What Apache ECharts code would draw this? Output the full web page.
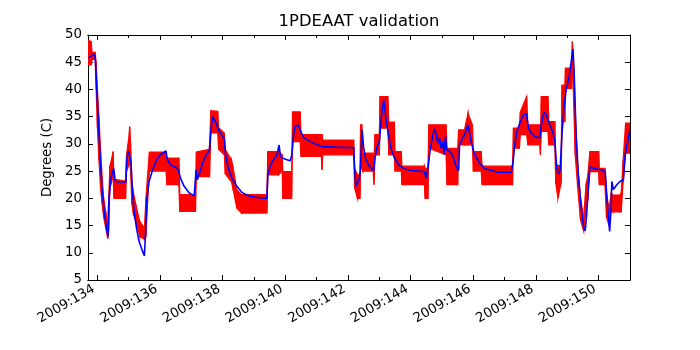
<!DOCTYPE html>
<html><head><meta charset="utf-8">
<script src="https://cdn.jsdelivr.net/npm/echarts@6/dist/echarts.min.js"></script>
<style>html,body{margin:0;padding:0;background:#fff}#c{width:700px;height:350px}</style>
</head><body><div id="c"></div>
<script>
// ---- data ----
const titleText = '1PDEAAT validation';
const yName = 'Degrees (C)';
const labelDays = [134,136,138,140,142,144,146,148,150];
const minorDays = [135,137,139,141,143,145,147,149,151];

// measured temperature (red): [day, low, high] envelope of the oscillating telemetry
const measured = [
[133.70,44.5,49.0],[133.80,44.5,48.8],[133.83,45.5,46.8],[133.93,45.5,46.8],[133.96,40,45],
[134.00,33,40],[134.05,27,35],[134.10,22,29],[134.15,19,24],[134.20,16.5,20],[134.27,14.5,17.5],
[134.33,12.6,15],[134.36,14,20],[134.40,22,26],[134.45,23,27],[134.50,24,28.6],[134.53,20,23.5],
[134.90,20,23.2],[134.93,25,28],[135.00,26,31],[135.03,27,33.2],[135.06,25,30],[135.10,19,23],
[135.15,17,21],[135.25,15.5,18.2],[135.35,13,15.8],[135.50,12.5,14.5],[135.55,13,20],[135.60,19,24],
[135.66,25,28.5],[136.19,25,28.5],[136.22,22.5,27.4],[136.60,22.5,27.4],[136.63,17.6,20.7],
[137.13,17.6,20.7],[137.16,24,28.5],[137.58,24,29],[137.62,32,36.1],[137.84,32,36],[137.87,29,33],
[138.05,28,32],[138.08,24.5,29],[138.28,23,27],[138.32,22,26],[138.45,18.2,21.6],[138.60,17.3,20.7],
[139.41,17.3,20.7],[139.44,24.3,28.6],[139.78,24.3,28.6],[139.90,25,28],[139.92,20,24.9],
[140.20,20,24.9],[140.23,30.4,35.9],[140.47,30.4,35.9],[140.50,27.7,31.7],[141.15,27.7,31.7],
[141.17,25.2,31.7],[141.19,28,30.7],[142.18,28,30.7],[142.21,21.9,25.5],[142.30,20,24.3],
[142.38,20,24.3],[142.40,25.5,33.5],[142.44,25.5,33.5],[142.47,25,28.3],[142.80,25,28.3],
[142.83,22.5,27],[142.86,28,31.7],[143.00,28,31.7],[143.02,32.9,38.7],[143.27,32.9,38.7],
[143.30,28,34],[143.48,28,34],[143.50,25,28.6],[143.70,25,28.6],[143.72,22.5,25.9],[144.44,22.5,25.9],
[144.46,20,25.5],[144.55,20,25.5],[144.58,29.2,33.5],[145.13,28,33.5],[145.16,22.5,29.2],
[145.50,22.5,29.2],[145.53,29.8,32.6],[145.72,29.8,32.6],[145.75,29.8,33.5],[145.83,29.8,35.6],
[145.97,29.8,33.5],[146.00,25,28.6],[146.25,25,28.6],[146.28,22.5,25.9],[147.25,22.5,25.9],
[147.28,29.2,32.9],[147.47,29.2,32.9],[147.50,31.7,35.9],[147.70,31.7,38.7],[147.74,29.8,33.5],
[148.12,29.8,33.5],[148.14,28,31],[148.17,32.3,38.7],[148.38,32.3,38.7],[148.41,29.8,34.1],
[148.60,29.8,34.1],[148.63,22.8,26.5],[148.70,20,26],[148.80,22.8,26],[148.83,34.1,40.8],
[148.92,34.1,40.8],[148.94,40.2,43.9],[149.13,40.2,43.9],[149.16,44,48.8],[149.19,40,46],
[149.25,28,36],[149.33,22,26],[149.42,16,20],[149.52,14,16.5],[149.60,18,22.7],[149.65,19.6,24],
[149.72,24.9,28.6],[150.00,24.9,28.6],[150.02,22.5,25.5],[150.20,22.5,25.5],[150.25,16.5,21],
[150.33,15,18],[150.40,18,21],[150.45,17.5,20.6],[150.68,17.5,20.6],[150.72,17.5,21],
[150.78,23,27],[150.86,28.3,33.8],[151.00,28.3,33.8]
];

// model temperature (blue): [day, value]
const model = [
[133.71,45.8],[133.84,46.3],[133.92,46.3],[133.95,43.9],[134.0,37.8],[134.05,31.7],[134.11,25.5],
[134.16,20.7],[134.23,17.0],[134.29,14.5],[134.34,13.0],[134.37,20.0],[134.43,23.7],[134.52,25.5],
[134.57,23.1],[134.69,23.0],[134.91,23.0],[134.94,27.4],[134.99,28.6],[135.03,28.9],[135.07,26.8],
[135.12,21.3],[135.17,17.6],[135.25,14.5],[135.33,12.1],[135.44,10.3],[135.50,9.4],[135.55,15.2],
[135.58,20.0],[135.65,23.1],[135.76,25.2],[135.89,27.1],[136.03,28.1],[136.19,28.7],[136.22,27.4],
[136.29,26.5],[136.40,25.9],[136.51,25.7],[136.59,25.2],[136.65,23.7],[136.77,22.2],[136.93,21.0],
[137.09,20.5],[137.13,20.4],[137.15,25.2],[137.19,23.4],[137.25,23.7],[137.36,26.5],[137.47,28.0],
[137.57,28.7],[137.63,32.9],[137.68,35.0],[137.79,33.8],[137.89,32.3],[138.0,31.4],[138.05,30.9],
[138.09,28.0],[138.18,25.5],[138.29,23.7],[138.45,22.2],[138.61,21.1],[138.82,20.5],[139.03,20.2],
[139.41,20.0],[139.44,24.3],[139.51,25.9],[139.62,27.1],[139.73,28.0],[139.80,29.8],[139.84,27.7],
[139.94,27.3],[140.05,27.1],[140.15,26.9],[140.21,28.0],[140.26,31.7],[140.31,33.2],[140.40,33.5],
[140.47,32.6],[140.58,31.2],[140.74,30.6],[140.95,30.0],[141.17,29.5],[141.59,29.4],[142.18,29.3],
[142.21,25.5],[142.25,22.2],[142.30,22.0],[142.36,23.7],[142.39,24.9],[142.45,32.6],[142.50,29.2],
[142.57,27.1],[142.68,25.9],[142.82,25.1],[142.86,27.4],[142.93,29.5],[143.0,30.4],[143.07,35.3],
[143.14,38.1],[143.21,34.7],[143.29,31.7],[143.37,29.2],[143.48,27.4],[143.64,26.0],[143.80,25.4],
[144.01,25.1],[144.44,24.9],[144.49,23.7],[144.55,25.6],[144.63,29.2],[144.71,31.7],[144.76,32.8],
[144.82,31.7],[144.87,30.1],[144.92,31.1],[144.97,29.2],[145.03,30.4],[145.06,28.0],[145.11,31.4],
[145.15,28.9],[145.24,28.7],[145.35,27.7],[145.45,25.9],[145.53,25.1],[145.56,29.8],[145.63,30.7],
[145.72,31.7],[145.83,33.5],[145.93,30.4],[146.04,28.0],[146.20,26.5],[146.36,25.5],[146.57,25.1],
[146.79,24.8],[147.21,24.8],[147.27,26.8],[147.32,29.8],[147.39,32.3],[147.48,33.8],[147.59,35.3],
[147.69,35.6],[147.74,35.9],[147.76,32.9],[147.85,32.0],[147.96,31.4],[148.12,31.1],[148.17,33.5],
[148.25,35.8],[148.33,35.3],[148.42,33.8],[148.53,32.3],[148.60,30.7],[148.66,25.5],[148.72,24.5],
[148.77,25.2],[148.83,32.0],[148.90,37.0],[148.97,40.2],[149.06,42.4],[149.11,44.5],[149.18,47.4],
[149.22,42.7],[149.28,31.7],[149.35,24.5],[149.44,18.5],[149.51,15.0],[149.57,14.0],[149.62,17.2],
[149.67,22.1],[149.72,25.8],[149.83,25.5],[150.10,25.2],[150.21,24.9],[150.26,20.3],[150.35,13.9],
[150.40,18.5],[150.42,23.1],[150.47,21.6],[150.58,22.5],[150.68,23.1],[150.79,23.4],[150.84,27.6],
[150.89,29.5],[151.0,32.5]
];

// ---- chart ----
const FONT = 'DejaVu Sans';
const X_MIN = 133.7, X_MAX = 151.0;
const chart = echarts.init(document.getElementById('c'), null, {renderer:'canvas'});

function xAx(position, ticks, len, labels){
  return {
    type:'value', position, min:X_MIN, max:X_MAX,
    axisLine:{show:true, onZero:false, lineStyle:{color:'#000', width:1}},
    axisTick:{show:true, inside:true, length:len, customValues:ticks, lineStyle:{color:'#000', width:1}},
    axisLabel: labels ? {show:true, customValues:labelDays, rotate:30, margin:6,
        fontFamily:FONT, fontSize:13.3, color:'#000', padding:[0,4,0,0],
        formatter:v=>'2009:'+v} : {show:false},
    splitLine:{show:false}
  };
}
function yAx(position, labels){
  return {
    type:'value', position, min:5, max:50, interval:5,
    axisLine:{show:true, onZero:false, lineStyle:{color:'#000', width:1}},
    axisTick:{show:true, inside:true, length:5, lineStyle:{color:'#000', width:1}},
    axisLabel: labels ? {show:true, fontFamily:FONT, fontSize:13.3, color:'#000', margin:6} : {show:false},
    splitLine:{show:false},
    name: labels ? yName : '', nameLocation:'middle', nameGap:30,
    nameTextStyle:{fontFamily:FONT, fontSize:13.3, color:'#000'}
  };
}

// segments of the measured envelope: [d0, lo0, hi0, d1, lo1, hi1]
const bandSegments = measured.slice(0, -1).map((d, i) => d.concat(measured[i + 1]));

function renderBand(params, api){
  const p0l = api.coord([api.value(0), api.value(1)]);
  const p0h = api.coord([api.value(0), api.value(2)]);
  const p1l = api.coord([api.value(3), api.value(4)]);
  const p1h = api.coord([api.value(3), api.value(5)]);
  return {
    type:'polygon',
    shape:{points:[p0l, p1l, p1h, p0h]},
    style:{fill:'#ff0000', stroke:'#ff0000', lineWidth:1.2}
  };
}

const option = {
  animation:false,
  backgroundColor:'#fff',
  grid:{left:88, right:70, top:35, bottom:70, containLabel:false},
  graphic:[{type:'text', x:359, y:22, style:{text:titleText, fontFamily:FONT, fontSize:16.4,
    fill:'#000', align:'center', verticalAlign:'middle'}}],
  xAxis:[
    xAx('bottom', labelDays, 5, true),
    xAx('bottom', minorDays, 3, false),
    xAx('top', labelDays, 5, false),
    xAx('top', minorDays, 3, false)
  ],
  yAxis:[ yAx('left', true), yAx('right', false) ],
  series:[
    {type:'custom', name:'measured', xAxisIndex:0, yAxisIndex:0, clip:true,
     renderItem:renderBand, data:bandSegments,
     encode:{x:[0,3], y:[1,2,4,5]}},
    {type:'line', name:'model', symbol:'none', xAxisIndex:0, yAxisIndex:0,
     data: model, lineStyle:{color:'#0000ff', width:1.6}, z:5}
  ]
};
chart.setOption(option);
</script></body></html>
